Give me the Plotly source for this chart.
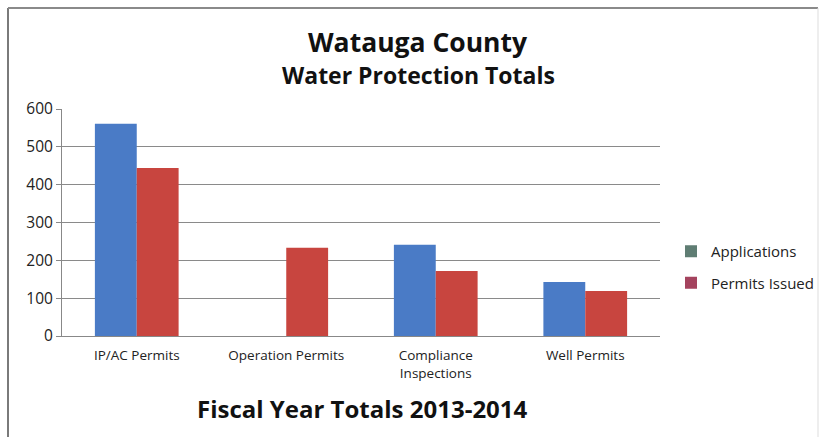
import plotly.graph_objects as go

categories = ["IP/AC Permits", "Operation Permits", "Compliance<br>Inspections", "Well Permits"]
applications = [561, 0, 241, 143]
permits_issued = [444, 233, 172, 119]
y_ticks = [0, 100, 200, 300, 400, 500, 600]

W, H = 827, 437
L, R, T, B = 62, 660, 109, 336
pw, ph = R - L, B - T

def px(x):
    return (x - L) / pw

def py(y):
    return (B - y) / ph

FONT = "Open Sans"

fig = go.Figure()
fig.add_trace(go.Bar(x=categories, y=applications, name="Applications",
                     marker=dict(color="#4a7bc6", line=dict(width=0)), showlegend=False))
fig.add_trace(go.Bar(x=categories, y=permits_issued, name="Permits Issued",
                     marker=dict(color="#c8453f", line=dict(width=0)), showlegend=False))
# legend entries (reference shows muted legend swatches)
fig.add_trace(go.Scatter(x=[None], y=[None], mode="markers", name="Applications",
                         marker=dict(symbol="square", size=9, color="#5f7d73"), legendgroup="a"))
fig.add_trace(go.Scatter(x=[None], y=[None], mode="markers", name="Permits Issued",
                         marker=dict(symbol="square", size=9, color="#a4435e"), legendgroup="b"))

fig.update_layout(
    width=W, height=H,
    margin=dict(l=L, r=W - R, t=T, b=H - B, autoexpand=False),
    paper_bgcolor="white", plot_bgcolor="white",
    barmode="group", bargap=0.44, bargroupgap=0,
    font=dict(family=FONT, size=13, color="#222"),
    showlegend=True,
    legend=dict(x=px(671), y=py(235), xanchor="left", yanchor="top",
                font=dict(family=FONT, size=15, color="#222"),
                tracegroupgap=9, traceorder="grouped",
                bgcolor="rgba(0,0,0,0)", itemsizing="constant"),
    xaxis=dict(showline=True, linecolor="#888", linewidth=1, ticks="",
               tickfont=dict(family=FONT, size=13.5, color="#222"),
               ticklabelstandoff=7, fixedrange=True),
    yaxis=dict(range=[0, 600], tickvals=y_ticks, showgrid=True, gridcolor="#8a8a8a",
               gridwidth=1, showline=True, linecolor="#888", linewidth=1,
               ticks="outside", ticklen=5, tickcolor="#888",
               tickfont=dict(family=FONT, size=15.5, color="#222"), zeroline=False),
    annotations=[
        dict(text="<b>Watauga County</b>", x=px(418), y=py(42), xref="paper", yref="paper",
             showarrow=False, xanchor="center", yanchor="middle",
             font=dict(family=FONT, size=26.5, color="#111")),
        dict(text="<b>Water Protection Totals</b>", x=px(418), y=py(75), xref="paper", yref="paper",
             showarrow=False, xanchor="center", yanchor="middle",
             font=dict(family=FONT, size=23, color="#111")),
        dict(text="<b>Fiscal Year Totals 2013-2014</b>", x=px(362), y=py(408), xref="paper", yref="paper",
             showarrow=False, xanchor="center", yanchor="middle",
             font=dict(family=FONT, size=24, color="#111")),
    ],
    shapes=[
        dict(type="line", xref="paper", yref="paper", x0=px(8), x1=px(8), y0=py(8), y1=py(437),
             line=dict(color="#7a7a7a", width=2)),
        dict(type="line", xref="paper", yref="paper", x0=px(8), x1=px(818), y0=py(8), y1=py(8),
             line=dict(color="#8a8a8a", width=2)),
        dict(type="line", xref="paper", yref="paper", x0=px(818), x1=px(818), y0=py(8), y1=py(437),
             line=dict(color="#dddddd", width=1)),
    ],
)

fig.write_html("out.html")
